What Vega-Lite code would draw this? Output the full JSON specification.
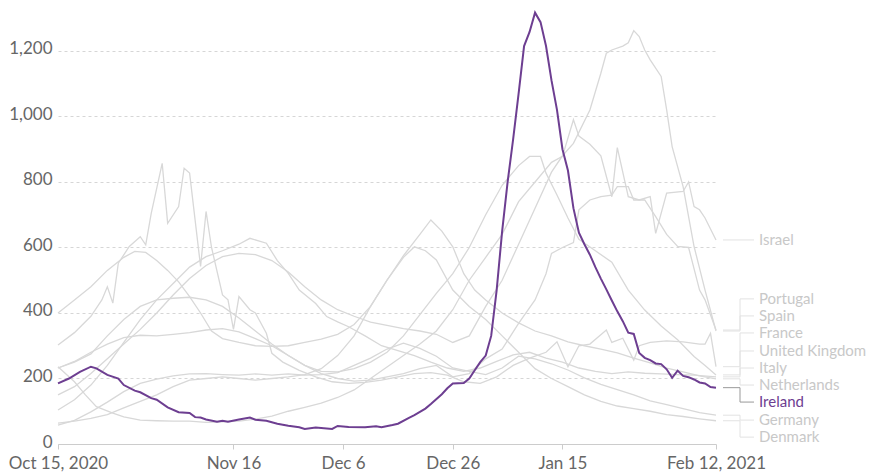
{
"$schema": "https://vega.github.io/schema/vega-lite/v6.json",
"width": 658, "height": 433,
"autosize": {"type": "none"},
"padding": {"left": 58, "top": 11, "right": 156, "bottom": 28},
"config": {"font": "Lato", "view": {"stroke": null}},
"datasets": {
"labels": [
{"c":"Israel","labelAt":623},{"c":"Portugal","labelAt":443},{"c":"Spain","labelAt":391},{"c":"France","labelAt":339},{"c":"United Kingdom","labelAt":284},{"c":"Italy","labelAt":232},{"c":"Netherlands","labelAt":180},{"c":"Ireland","labelAt":128},{"c":"Germany","labelAt":73},{"c":"Denmark","labelAt":21}
],
"series": [
{"c":"Ireland","d":"2020-10-15","v":185},{"c":"Ireland","d":"2020-10-17","v":200},{"c":"Ireland","d":"2020-10-19","v":220},{"c":"Ireland","d":"2020-10-21","v":236},{"c":"Ireland","d":"2020-10-22","v":231},{"c":"Ireland","d":"2020-10-24","v":211},{"c":"Ireland","d":"2020-10-26","v":200},{"c":"Ireland","d":"2020-10-27","v":180},{"c":"Ireland","d":"2020-10-29","v":163},{"c":"Ireland","d":"2020-10-30","v":158},{"c":"Ireland","d":"2020-11-01","v":140},{"c":"Ireland","d":"2020-11-02","v":135},{"c":"Ireland","d":"2020-11-04","v":112},{"c":"Ireland","d":"2020-11-06","v":97},{"c":"Ireland","d":"2020-11-08","v":95},{"c":"Ireland","d":"2020-11-09","v":82},{"c":"Ireland","d":"2020-11-10","v":81},{"c":"Ireland","d":"2020-11-11","v":75},{"c":"Ireland","d":"2020-11-13","v":68},{"c":"Ireland","d":"2020-11-14","v":71},{"c":"Ireland","d":"2020-11-15","v":68},{"c":"Ireland","d":"2020-11-17","v":75},{"c":"Ireland","d":"2020-11-19","v":81},{"c":"Ireland","d":"2020-11-20","v":74},{"c":"Ireland","d":"2020-11-22","v":71},{"c":"Ireland","d":"2020-11-24","v":62},{"c":"Ireland","d":"2020-11-26","v":56},{"c":"Ireland","d":"2020-11-28","v":51},{"c":"Ireland","d":"2020-11-29","v":46},{"c":"Ireland","d":"2020-12-01","v":50},{"c":"Ireland","d":"2020-12-04","v":46},{"c":"Ireland","d":"2020-12-05","v":55},{"c":"Ireland","d":"2020-12-07","v":52},{"c":"Ireland","d":"2020-12-10","v":51},{"c":"Ireland","d":"2020-12-12","v":54},{"c":"Ireland","d":"2020-12-13","v":51},{"c":"Ireland","d":"2020-12-15","v":58},{"c":"Ireland","d":"2020-12-16","v":62},{"c":"Ireland","d":"2020-12-18","v":80},{"c":"Ireland","d":"2020-12-19","v":88},{"c":"Ireland","d":"2020-12-21","v":108},{"c":"Ireland","d":"2020-12-22","v":122},{"c":"Ireland","d":"2020-12-24","v":152},{"c":"Ireland","d":"2020-12-25","v":170},{"c":"Ireland","d":"2020-12-26","v":185},{"c":"Ireland","d":"2020-12-28","v":186},{"c":"Ireland","d":"2020-12-29","v":200},{"c":"Ireland","d":"2020-12-30","v":225},{"c":"Ireland","d":"2020-12-31","v":250},{"c":"Ireland","d":"2021-01-01","v":270},{"c":"Ireland","d":"2021-01-02","v":330},{"c":"Ireland","d":"2021-01-03","v":470},{"c":"Ireland","d":"2021-01-04","v":650},{"c":"Ireland","d":"2021-01-05","v":800},{"c":"Ireland","d":"2021-01-06","v":930},{"c":"Ireland","d":"2021-01-07","v":1070},{"c":"Ireland","d":"2021-01-08","v":1215},{"c":"Ireland","d":"2021-01-09","v":1258},{"c":"Ireland","d":"2021-01-10","v":1317},{"c":"Ireland","d":"2021-01-11","v":1288},{"c":"Ireland","d":"2021-01-12","v":1215},{"c":"Ireland","d":"2021-01-13","v":1110},{"c":"Ireland","d":"2021-01-14","v":1020},{"c":"Ireland","d":"2021-01-15","v":900},{"c":"Ireland","d":"2021-01-16","v":835},{"c":"Ireland","d":"2021-01-17","v":720},{"c":"Ireland","d":"2021-01-18","v":645},{"c":"Ireland","d":"2021-01-19","v":610},{"c":"Ireland","d":"2021-01-20","v":578},{"c":"Ireland","d":"2021-01-21","v":540},{"c":"Ireland","d":"2021-01-22","v":505},{"c":"Ireland","d":"2021-01-23","v":472},{"c":"Ireland","d":"2021-01-24","v":438},{"c":"Ireland","d":"2021-01-25","v":405},{"c":"Ireland","d":"2021-01-26","v":375},{"c":"Ireland","d":"2021-01-27","v":340},{"c":"Ireland","d":"2021-01-28","v":336},{"c":"Ireland","d":"2021-01-29","v":278},{"c":"Ireland","d":"2021-01-30","v":263},{"c":"Ireland","d":"2021-01-31","v":256},{"c":"Ireland","d":"2021-02-01","v":246},{"c":"Ireland","d":"2021-02-02","v":244},{"c":"Ireland","d":"2021-02-03","v":228},{"c":"Ireland","d":"2021-02-04","v":202},{"c":"Ireland","d":"2021-02-05","v":224},{"c":"Ireland","d":"2021-02-06","v":208},{"c":"Ireland","d":"2021-02-07","v":204},{"c":"Ireland","d":"2021-02-08","v":197},{"c":"Ireland","d":"2021-02-09","v":188},{"c":"Ireland","d":"2021-02-10","v":185},{"c":"Ireland","d":"2021-02-11","v":174},{"c":"Ireland","d":"2021-02-12","v":172},

{"c":"Israel","d":"2020-10-15","v":236},{"c":"Israel","d":"2020-10-18","v":190},{"c":"Israel","d":"2020-10-20","v":150},{"c":"Israel","d":"2020-10-22","v":114},{"c":"Israel","d":"2020-10-25","v":94},{"c":"Israel","d":"2020-10-27","v":83},{"c":"Israel","d":"2020-10-30","v":73},{"c":"Israel","d":"2020-11-02","v":71},{"c":"Israel","d":"2020-11-05","v":70},{"c":"Israel","d":"2020-11-08","v":70},{"c":"Israel","d":"2020-11-11","v":66},{"c":"Israel","d":"2020-11-14","v":68},{"c":"Israel","d":"2020-11-17","v":70},{"c":"Israel","d":"2020-11-20","v":76},{"c":"Israel","d":"2020-11-23","v":85},{"c":"Israel","d":"2020-11-26","v":100},{"c":"Israel","d":"2020-11-29","v":112},{"c":"Israel","d":"2020-12-02","v":125},{"c":"Israel","d":"2020-12-05","v":142},{"c":"Israel","d":"2020-12-08","v":165},{"c":"Israel","d":"2020-12-11","v":200},{"c":"Israel","d":"2020-12-14","v":235},{"c":"Israel","d":"2020-12-17","v":270},{"c":"Israel","d":"2020-12-20","v":305},{"c":"Israel","d":"2020-12-23","v":345},{"c":"Israel","d":"2020-12-26","v":410},{"c":"Israel","d":"2020-12-29","v":500},{"c":"Israel","d":"2021-01-01","v":570},{"c":"Israel","d":"2021-01-04","v":640},{"c":"Israel","d":"2021-01-07","v":740},{"c":"Israel","d":"2021-01-10","v":800},{"c":"Israel","d":"2021-01-13","v":860},{"c":"Israel","d":"2021-01-15","v":878},{"c":"Israel","d":"2021-01-17","v":990},{"c":"Israel","d":"2021-01-18","v":940},{"c":"Israel","d":"2021-01-20","v":915},{"c":"Israel","d":"2021-01-22","v":880},{"c":"Israel","d":"2021-01-24","v":755},{"c":"Israel","d":"2021-01-25","v":905},{"c":"Israel","d":"2021-01-27","v":755},{"c":"Israel","d":"2021-01-29","v":745},{"c":"Israel","d":"2021-01-31","v":755},{"c":"Israel","d":"2021-02-01","v":643},{"c":"Israel","d":"2021-02-03","v":766},{"c":"Israel","d":"2021-02-06","v":771},{"c":"Israel","d":"2021-02-07","v":800},{"c":"Israel","d":"2021-02-08","v":725},{"c":"Israel","d":"2021-02-09","v":715},{"c":"Israel","d":"2021-02-10","v":690},{"c":"Israel","d":"2021-02-12","v":623},

{"c":"Portugal","d":"2020-10-15","v":150},{"c":"Portugal","d":"2020-10-18","v":175},{"c":"Portugal","d":"2020-10-21","v":215},{"c":"Portugal","d":"2020-10-24","v":260},{"c":"Portugal","d":"2020-10-27","v":305},{"c":"Portugal","d":"2020-10-30","v":350},{"c":"Portugal","d":"2020-11-02","v":400},{"c":"Portugal","d":"2020-11-05","v":455},{"c":"Portugal","d":"2020-11-08","v":505},{"c":"Portugal","d":"2020-11-11","v":545},{"c":"Portugal","d":"2020-11-14","v":572},{"c":"Portugal","d":"2020-11-17","v":582},{"c":"Portugal","d":"2020-11-20","v":578},{"c":"Portugal","d":"2020-11-23","v":560},{"c":"Portugal","d":"2020-11-26","v":525},{"c":"Portugal","d":"2020-11-29","v":480},{"c":"Portugal","d":"2020-12-02","v":440},{"c":"Portugal","d":"2020-12-05","v":410},{"c":"Portugal","d":"2020-12-08","v":390},{"c":"Portugal","d":"2020-12-11","v":372},{"c":"Portugal","d":"2020-12-14","v":362},{"c":"Portugal","d":"2020-12-17","v":352},{"c":"Portugal","d":"2020-12-20","v":345},{"c":"Portugal","d":"2020-12-23","v":335},{"c":"Portugal","d":"2020-12-26","v":310},{"c":"Portugal","d":"2020-12-29","v":330},{"c":"Portugal","d":"2021-01-01","v":420},{"c":"Portugal","d":"2021-01-04","v":500},{"c":"Portugal","d":"2021-01-07","v":610},{"c":"Portugal","d":"2021-01-10","v":720},{"c":"Portugal","d":"2021-01-13","v":830},{"c":"Portugal","d":"2021-01-15","v":880},{"c":"Portugal","d":"2021-01-17","v":918},{"c":"Portugal","d":"2021-01-20","v":1020},{"c":"Portugal","d":"2021-01-22","v":1132},{"c":"Portugal","d":"2021-01-23","v":1193},{"c":"Portugal","d":"2021-01-24","v":1203},{"c":"Portugal","d":"2021-01-26","v":1215},{"c":"Portugal","d":"2021-01-27","v":1225},{"c":"Portugal","d":"2021-01-28","v":1262},{"c":"Portugal","d":"2021-01-29","v":1244},{"c":"Portugal","d":"2021-01-30","v":1203},{"c":"Portugal","d":"2021-01-31","v":1173},{"c":"Portugal","d":"2021-02-02","v":1122},{"c":"Portugal","d":"2021-02-03","v":1020},{"c":"Portugal","d":"2021-02-04","v":908},{"c":"Portugal","d":"2021-02-06","v":786},{"c":"Portugal","d":"2021-02-08","v":603},{"c":"Portugal","d":"2021-02-10","v":470},{"c":"Portugal","d":"2021-02-12","v":345},

{"c":"Spain","d":"2020-10-15","v":232},{"c":"Spain","d":"2020-10-18","v":250},{"c":"Spain","d":"2020-10-21","v":275},{"c":"Spain","d":"2020-10-24","v":330},{"c":"Spain","d":"2020-10-27","v":380},{"c":"Spain","d":"2020-10-30","v":420},{"c":"Spain","d":"2020-11-02","v":440},{"c":"Spain","d":"2020-11-05","v":445},{"c":"Spain","d":"2020-11-08","v":448},{"c":"Spain","d":"2020-11-11","v":440},{"c":"Spain","d":"2020-11-14","v":420},{"c":"Spain","d":"2020-11-17","v":385},{"c":"Spain","d":"2020-11-20","v":345},{"c":"Spain","d":"2020-11-23","v":305},{"c":"Spain","d":"2020-11-26","v":270},{"c":"Spain","d":"2020-11-29","v":240},{"c":"Spain","d":"2020-12-02","v":215},{"c":"Spain","d":"2020-12-05","v":200},{"c":"Spain","d":"2020-12-08","v":192},{"c":"Spain","d":"2020-12-11","v":195},{"c":"Spain","d":"2020-12-14","v":205},{"c":"Spain","d":"2020-12-17","v":215},{"c":"Spain","d":"2020-12-20","v":230},{"c":"Spain","d":"2020-12-23","v":240},{"c":"Spain","d":"2020-12-26","v":205},{"c":"Spain","d":"2020-12-29","v":215},{"c":"Spain","d":"2021-01-01","v":260},{"c":"Spain","d":"2021-01-04","v":290},{"c":"Spain","d":"2021-01-07","v":368},{"c":"Spain","d":"2021-01-10","v":440},{"c":"Spain","d":"2021-01-12","v":520},{"c":"Spain","d":"2021-01-13","v":582},{"c":"Spain","d":"2021-01-15","v":600},{"c":"Spain","d":"2021-01-17","v":615},{"c":"Spain","d":"2021-01-18","v":715},{"c":"Spain","d":"2021-01-20","v":745},{"c":"Spain","d":"2021-01-22","v":755},{"c":"Spain","d":"2021-01-24","v":760},{"c":"Spain","d":"2021-01-25","v":786},{"c":"Spain","d":"2021-01-27","v":786},{"c":"Spain","d":"2021-01-28","v":745},{"c":"Spain","d":"2021-01-30","v":745},{"c":"Spain","d":"2021-02-01","v":694},{"c":"Spain","d":"2021-02-03","v":640},{"c":"Spain","d":"2021-02-05","v":603},{"c":"Spain","d":"2021-02-07","v":600},{"c":"Spain","d":"2021-02-09","v":470},{"c":"Spain","d":"2021-02-10","v":440},{"c":"Spain","d":"2021-02-12","v":348},

{"c":"France","d":"2020-10-15","v":302},{"c":"France","d":"2020-10-18","v":340},{"c":"France","d":"2020-10-21","v":390},{"c":"France","d":"2020-10-23","v":440},{"c":"France","d":"2020-10-24","v":480},{"c":"France","d":"2020-10-25","v":430},{"c":"France","d":"2020-10-26","v":552},{"c":"France","d":"2020-10-28","v":603},{"c":"France","d":"2020-10-30","v":633},{"c":"France","d":"2020-10-31","v":608},{"c":"France","d":"2020-11-01","v":704},{"c":"France","d":"2020-11-03","v":857},{"c":"France","d":"2020-11-04","v":674},{"c":"France","d":"2020-11-06","v":725},{"c":"France","d":"2020-11-07","v":842},{"c":"France","d":"2020-11-08","v":827},{"c":"France","d":"2020-11-10","v":542},{"c":"France","d":"2020-11-11","v":710},{"c":"France","d":"2020-11-12","v":600},{"c":"France","d":"2020-11-14","v":455},{"c":"France","d":"2020-11-15","v":440},{"c":"France","d":"2020-11-16","v":350},{"c":"France","d":"2020-11-17","v":450},{"c":"France","d":"2020-11-19","v":410},{"c":"France","d":"2020-11-20","v":400},{"c":"France","d":"2020-11-22","v":338},{"c":"France","d":"2020-11-23","v":277},{"c":"France","d":"2020-11-25","v":250},{"c":"France","d":"2020-11-28","v":225},{"c":"France","d":"2020-12-01","v":205},{"c":"France","d":"2020-12-04","v":190},{"c":"France","d":"2020-12-07","v":185},{"c":"France","d":"2020-12-10","v":188},{"c":"France","d":"2020-12-13","v":195},{"c":"France","d":"2020-12-16","v":205},{"c":"France","d":"2020-12-19","v":215},{"c":"France","d":"2020-12-22","v":218},{"c":"France","d":"2020-12-25","v":210},{"c":"France","d":"2020-12-28","v":190},{"c":"France","d":"2020-12-31","v":185},{"c":"France","d":"2021-01-03","v":205},{"c":"France","d":"2021-01-06","v":240},{"c":"France","d":"2021-01-09","v":262},{"c":"France","d":"2021-01-12","v":280},{"c":"France","d":"2021-01-14","v":312},{"c":"France","d":"2021-01-16","v":236},{"c":"France","d":"2021-01-18","v":300},{"c":"France","d":"2021-01-20","v":305},{"c":"France","d":"2021-01-23","v":348},{"c":"France","d":"2021-01-24","v":310},{"c":"France","d":"2021-01-26","v":323},{"c":"France","d":"2021-01-28","v":256},{"c":"France","d":"2021-01-29","v":300},{"c":"France","d":"2021-01-31","v":310},{"c":"France","d":"2021-02-03","v":315},{"c":"France","d":"2021-02-06","v":312},{"c":"France","d":"2021-02-09","v":305},{"c":"France","d":"2021-02-10","v":305},{"c":"France","d":"2021-02-11","v":338},{"c":"France","d":"2021-02-12","v":236},

{"c":"Netherlands","d":"2020-10-15","v":400},{"c":"Netherlands","d":"2020-10-18","v":440},{"c":"Netherlands","d":"2020-10-21","v":480},{"c":"Netherlands","d":"2020-10-24","v":530},{"c":"Netherlands","d":"2020-10-27","v":570},{"c":"Netherlands","d":"2020-10-29","v":588},{"c":"Netherlands","d":"2020-10-31","v":585},{"c":"Netherlands","d":"2020-11-02","v":560},{"c":"Netherlands","d":"2020-11-04","v":530},{"c":"Netherlands","d":"2020-11-06","v":495},{"c":"Netherlands","d":"2020-11-08","v":450},{"c":"Netherlands","d":"2020-11-10","v":400},{"c":"Netherlands","d":"2020-11-12","v":345},{"c":"Netherlands","d":"2020-11-14","v":322},{"c":"Netherlands","d":"2020-11-17","v":310},{"c":"Netherlands","d":"2020-11-20","v":300},{"c":"Netherlands","d":"2020-11-23","v":298},{"c":"Netherlands","d":"2020-11-26","v":300},{"c":"Netherlands","d":"2020-11-29","v":310},{"c":"Netherlands","d":"2020-12-02","v":320},{"c":"Netherlands","d":"2020-12-05","v":335},{"c":"Netherlands","d":"2020-12-08","v":365},{"c":"Netherlands","d":"2020-12-11","v":420},{"c":"Netherlands","d":"2020-12-14","v":500},{"c":"Netherlands","d":"2020-12-17","v":575},{"c":"Netherlands","d":"2020-12-20","v":640},{"c":"Netherlands","d":"2020-12-22","v":684},{"c":"Netherlands","d":"2020-12-24","v":650},{"c":"Netherlands","d":"2020-12-26","v":602},{"c":"Netherlands","d":"2020-12-28","v":520},{"c":"Netherlands","d":"2020-12-30","v":470},{"c":"Netherlands","d":"2021-01-01","v":440},{"c":"Netherlands","d":"2021-01-04","v":400},{"c":"Netherlands","d":"2021-01-07","v":370},{"c":"Netherlands","d":"2021-01-10","v":345},{"c":"Netherlands","d":"2021-01-13","v":330},{"c":"Netherlands","d":"2021-01-16","v":312},{"c":"Netherlands","d":"2021-01-19","v":300},{"c":"Netherlands","d":"2021-01-22","v":290},{"c":"Netherlands","d":"2021-01-25","v":278},{"c":"Netherlands","d":"2021-01-28","v":262},{"c":"Netherlands","d":"2021-01-31","v":248},{"c":"Netherlands","d":"2021-02-03","v":232},{"c":"Netherlands","d":"2021-02-06","v":220},{"c":"Netherlands","d":"2021-02-09","v":208},{"c":"Netherlands","d":"2021-02-12","v":199},

{"c":"United Kingdom","d":"2020-10-15","v":232},{"c":"United Kingdom","d":"2020-10-18","v":252},{"c":"United Kingdom","d":"2020-10-21","v":280},{"c":"United Kingdom","d":"2020-10-24","v":305},{"c":"United Kingdom","d":"2020-10-27","v":325},{"c":"United Kingdom","d":"2020-10-30","v":332},{"c":"United Kingdom","d":"2020-11-02","v":330},{"c":"United Kingdom","d":"2020-11-05","v":335},{"c":"United Kingdom","d":"2020-11-08","v":340},{"c":"United Kingdom","d":"2020-11-11","v":348},{"c":"United Kingdom","d":"2020-11-14","v":352},{"c":"United Kingdom","d":"2020-11-17","v":342},{"c":"United Kingdom","d":"2020-11-20","v":322},{"c":"United Kingdom","d":"2020-11-23","v":300},{"c":"United Kingdom","d":"2020-11-26","v":270},{"c":"United Kingdom","d":"2020-11-29","v":240},{"c":"United Kingdom","d":"2020-12-02","v":222},{"c":"United Kingdom","d":"2020-12-05","v":220},{"c":"United Kingdom","d":"2020-12-08","v":230},{"c":"United Kingdom","d":"2020-12-11","v":250},{"c":"United Kingdom","d":"2020-12-14","v":280},{"c":"United Kingdom","d":"2020-12-17","v":330},{"c":"United Kingdom","d":"2020-12-20","v":395},{"c":"United Kingdom","d":"2020-12-23","v":460},{"c":"United Kingdom","d":"2020-12-26","v":520},{"c":"United Kingdom","d":"2020-12-29","v":600},{"c":"United Kingdom","d":"2021-01-01","v":700},{"c":"United Kingdom","d":"2021-01-04","v":790},{"c":"United Kingdom","d":"2021-01-07","v":850},{"c":"United Kingdom","d":"2021-01-09","v":878},{"c":"United Kingdom","d":"2021-01-11","v":878},{"c":"United Kingdom","d":"2021-01-12","v":827},{"c":"United Kingdom","d":"2021-01-14","v":760},{"c":"United Kingdom","d":"2021-01-16","v":690},{"c":"United Kingdom","d":"2021-01-18","v":625},{"c":"United Kingdom","d":"2021-01-21","v":590},{"c":"United Kingdom","d":"2021-01-24","v":555},{"c":"United Kingdom","d":"2021-01-27","v":470},{"c":"United Kingdom","d":"2021-01-30","v":409},{"c":"United Kingdom","d":"2021-02-02","v":360},{"c":"United Kingdom","d":"2021-02-05","v":318},{"c":"United Kingdom","d":"2021-02-08","v":267},{"c":"United Kingdom","d":"2021-02-10","v":240},{"c":"United Kingdom","d":"2021-02-12","v":211},

{"c":"Italy","d":"2020-10-15","v":104},{"c":"Italy","d":"2020-10-18","v":135},{"c":"Italy","d":"2020-10-21","v":180},{"c":"Italy","d":"2020-10-24","v":240},{"c":"Italy","d":"2020-10-27","v":310},{"c":"Italy","d":"2020-10-30","v":380},{"c":"Italy","d":"2020-11-02","v":440},{"c":"Italy","d":"2020-11-05","v":490},{"c":"Italy","d":"2020-11-08","v":540},{"c":"Italy","d":"2020-11-11","v":572},{"c":"Italy","d":"2020-11-14","v":590},{"c":"Italy","d":"2020-11-17","v":610},{"c":"Italy","d":"2020-11-19","v":628},{"c":"Italy","d":"2020-11-22","v":613},{"c":"Italy","d":"2020-11-24","v":560},{"c":"Italy","d":"2020-11-26","v":521},{"c":"Italy","d":"2020-11-28","v":470},{"c":"Italy","d":"2020-12-01","v":429},{"c":"Italy","d":"2020-12-03","v":389},{"c":"Italy","d":"2020-12-05","v":373},{"c":"Italy","d":"2020-12-07","v":358},{"c":"Italy","d":"2020-12-10","v":330},{"c":"Italy","d":"2020-12-13","v":300},{"c":"Italy","d":"2020-12-16","v":285},{"c":"Italy","d":"2020-12-19","v":270},{"c":"Italy","d":"2020-12-22","v":250},{"c":"Italy","d":"2020-12-25","v":232},{"c":"Italy","d":"2020-12-28","v":222},{"c":"Italy","d":"2020-12-31","v":232},{"c":"Italy","d":"2021-01-03","v":252},{"c":"Italy","d":"2021-01-06","v":272},{"c":"Italy","d":"2021-01-09","v":280},{"c":"Italy","d":"2021-01-12","v":262},{"c":"Italy","d":"2021-01-15","v":250},{"c":"Italy","d":"2021-01-18","v":232},{"c":"Italy","d":"2021-01-21","v":222},{"c":"Italy","d":"2021-01-24","v":215},{"c":"Italy","d":"2021-01-27","v":220},{"c":"Italy","d":"2021-01-30","v":216},{"c":"Italy","d":"2021-02-02","v":214},{"c":"Italy","d":"2021-02-05","v":212},{"c":"Italy","d":"2021-02-08","v":210},{"c":"Italy","d":"2021-02-12","v":205},

{"c":"Germany","d":"2020-10-15","v":58},{"c":"Germany","d":"2020-10-18","v":72},{"c":"Germany","d":"2020-10-21","v":98},{"c":"Germany","d":"2020-10-24","v":128},{"c":"Germany","d":"2020-10-27","v":160},{"c":"Germany","d":"2020-10-30","v":185},{"c":"Germany","d":"2020-11-02","v":198},{"c":"Germany","d":"2020-11-05","v":208},{"c":"Germany","d":"2020-11-08","v":214},{"c":"Germany","d":"2020-11-11","v":215},{"c":"Germany","d":"2020-11-14","v":212},{"c":"Germany","d":"2020-11-17","v":210},{"c":"Germany","d":"2020-11-20","v":214},{"c":"Germany","d":"2020-11-23","v":210},{"c":"Germany","d":"2020-11-26","v":214},{"c":"Germany","d":"2020-11-29","v":210},{"c":"Germany","d":"2020-12-02","v":212},{"c":"Germany","d":"2020-12-05","v":218},{"c":"Germany","d":"2020-12-08","v":240},{"c":"Germany","d":"2020-12-11","v":262},{"c":"Germany","d":"2020-12-14","v":290},{"c":"Germany","d":"2020-12-17","v":308},{"c":"Germany","d":"2020-12-20","v":292},{"c":"Germany","d":"2020-12-23","v":268},{"c":"Germany","d":"2020-12-26","v":232},{"c":"Germany","d":"2020-12-29","v":222},{"c":"Germany","d":"2021-01-01","v":212},{"c":"Germany","d":"2021-01-04","v":232},{"c":"Germany","d":"2021-01-07","v":268},{"c":"Germany","d":"2021-01-10","v":260},{"c":"Germany","d":"2021-01-13","v":245},{"c":"Germany","d":"2021-01-16","v":226},{"c":"Germany","d":"2021-01-19","v":202},{"c":"Germany","d":"2021-01-22","v":182},{"c":"Germany","d":"2021-01-25","v":166},{"c":"Germany","d":"2021-01-28","v":150},{"c":"Germany","d":"2021-01-31","v":132},{"c":"Germany","d":"2021-02-03","v":120},{"c":"Germany","d":"2021-02-06","v":108},{"c":"Germany","d":"2021-02-09","v":96},{"c":"Germany","d":"2021-02-12","v":88},

{"c":"Denmark","d":"2020-10-15","v":64},{"c":"Denmark","d":"2020-10-18","v":70},{"c":"Denmark","d":"2020-10-21","v":78},{"c":"Denmark","d":"2020-10-24","v":90},{"c":"Denmark","d":"2020-10-27","v":110},{"c":"Denmark","d":"2020-10-30","v":130},{"c":"Denmark","d":"2020-11-02","v":150},{"c":"Denmark","d":"2020-11-05","v":175},{"c":"Denmark","d":"2020-11-08","v":195},{"c":"Denmark","d":"2020-11-11","v":200},{"c":"Denmark","d":"2020-11-14","v":205},{"c":"Denmark","d":"2020-11-17","v":200},{"c":"Denmark","d":"2020-11-20","v":195},{"c":"Denmark","d":"2020-11-23","v":200},{"c":"Denmark","d":"2020-11-26","v":205},{"c":"Denmark","d":"2020-11-29","v":212},{"c":"Denmark","d":"2020-12-02","v":230},{"c":"Denmark","d":"2020-12-05","v":270},{"c":"Denmark","d":"2020-12-08","v":330},{"c":"Denmark","d":"2020-12-11","v":420},{"c":"Denmark","d":"2020-12-14","v":500},{"c":"Denmark","d":"2020-12-17","v":570},{"c":"Denmark","d":"2020-12-19","v":602},{"c":"Denmark","d":"2020-12-21","v":590},{"c":"Denmark","d":"2020-12-23","v":562},{"c":"Denmark","d":"2020-12-26","v":470},{"c":"Denmark","d":"2020-12-29","v":420},{"c":"Denmark","d":"2021-01-01","v":380},{"c":"Denmark","d":"2021-01-04","v":330},{"c":"Denmark","d":"2021-01-07","v":280},{"c":"Denmark","d":"2021-01-10","v":230},{"c":"Denmark","d":"2021-01-13","v":200},{"c":"Denmark","d":"2021-01-16","v":175},{"c":"Denmark","d":"2021-01-19","v":150},{"c":"Denmark","d":"2021-01-22","v":130},{"c":"Denmark","d":"2021-01-25","v":116},{"c":"Denmark","d":"2021-01-28","v":108},{"c":"Denmark","d":"2021-01-31","v":100},{"c":"Denmark","d":"2021-02-03","v":90},{"c":"Denmark","d":"2021-02-06","v":84},{"c":"Denmark","d":"2021-02-09","v":77},{"c":"Denmark","d":"2021-02-12","v":71}
]
},
"data": {"name": "series"},
"encoding": {
  "x": {"field": "d", "type": "temporal",
    "scale": {"type": "utc", "domain": [{"year": 2020, "month": 10, "date": 15, "utc": true}, {"year": 2021, "month": 2, "date": 12, "utc": true}]},
    "axis": {"title": null, "grid": false,
      "values": [{"year": 2020, "month": 10, "date": 15, "utc": true}, {"year": 2020, "month": 11, "date": 16, "utc": true}, {"year": 2020, "month": 12, "date": 6, "utc": true}, {"year": 2020, "month": 12, "date": 26, "utc": true}, {"year": 2021, "month": 1, "date": 15, "utc": true}, {"year": 2021, "month": 2, "date": 12, "utc": true}],
      "labelExpr": "utcFormat(datum.value, '%b %-d') + (utcmonth(datum.value) == 9 ? ', 2020' : (utcmonth(datum.value) == 1 ? ', 2021' : ''))",
      "domainColor": "#cccccc", "tickColor": "#cccccc", "tickSize": 5, "labelFontSize": 17, "labelColor": "#666666", "labelPadding": 6, "labelOverlap": false, "labelBound": false, "labelFlush": false}
  }
},
"layer": [
  {
    "transform": [{"filter": "datum.c !== 'Ireland'"}],
    "mark": {"type": "line", "color": "#d8d8d8", "strokeWidth": 1.3},
    "encoding": {
      "y": {"field": "v", "type": "quantitative", "scale": {"domain": [0, 1322], "nice": false, "zero": true},
        "axis": {"title": null, "values": [0, 200, 400, 600, 800, 1000, 1200], "format": ",d", "domain": false, "ticks": false, "labelFontSize": 17, "labelColor": "#666666", "labelPadding": 6, "labelOffset": -2, "gridColor": "#d6d6d6", "gridDash": [3, 3], "gridWidth": 1}},
      "detail": {"field": "c"}
    }
  },
  {
    "transform": [{"filter": "datum.c === 'Ireland'"}],
    "mark": {"type": "line", "color": "#6D3E91", "strokeWidth": 2},
    "encoding": {"y": {"field": "v", "type": "quantitative"}}
  },
  {
    "transform": [
      {"joinaggregate": [{"op": "max", "field": "d", "as": "dmax"}], "groupby": ["c"]},
      {"filter": "time(datum.d) === time(datum.dmax)"},
      {"lookup": "c", "from": {"data": {"name": "labels"}, "key": "c", "fields": ["labelAt"]}}
    ],
    "layer": [
      {"mark": {"type": "rule", "xOffset": 7, "x2Offset": 24, "strokeWidth": 1},
       "encoding": {"x2": {"field": "d"}, "y": {"field": "v", "type": "quantitative"},
         "color": {"condition": {"test": "datum.c === 'Ireland'", "value": "#999999"}, "value": "#e2e2e2"}}},
      {"mark": {"type": "rule", "xOffset": 24, "strokeWidth": 1},
       "encoding": {"y": {"field": "v", "type": "quantitative"}, "y2": {"field": "labelAt"},
         "color": {"condition": {"test": "datum.c === 'Ireland'", "value": "#999999"}, "value": "#e2e2e2"}}},
      {"mark": {"type": "rule", "xOffset": 24, "x2Offset": 38, "strokeWidth": 1},
       "encoding": {"x2": {"field": "d"}, "y": {"field": "labelAt", "type": "quantitative"},
         "color": {"condition": {"test": "datum.c === 'Ireland'", "value": "#999999"}, "value": "#e2e2e2"}}},
      {"mark": {"type": "text", "align": "left", "baseline": "middle", "dx": 43, "fontSize": 15},
       "encoding": {"y": {"field": "labelAt", "type": "quantitative"}, "text": {"field": "c"},
         "color": {"condition": {"test": "datum.c === 'Ireland'", "value": "#6D3E91"}, "value": "#c8c8c8"}}}
    ]
  }
]
}
